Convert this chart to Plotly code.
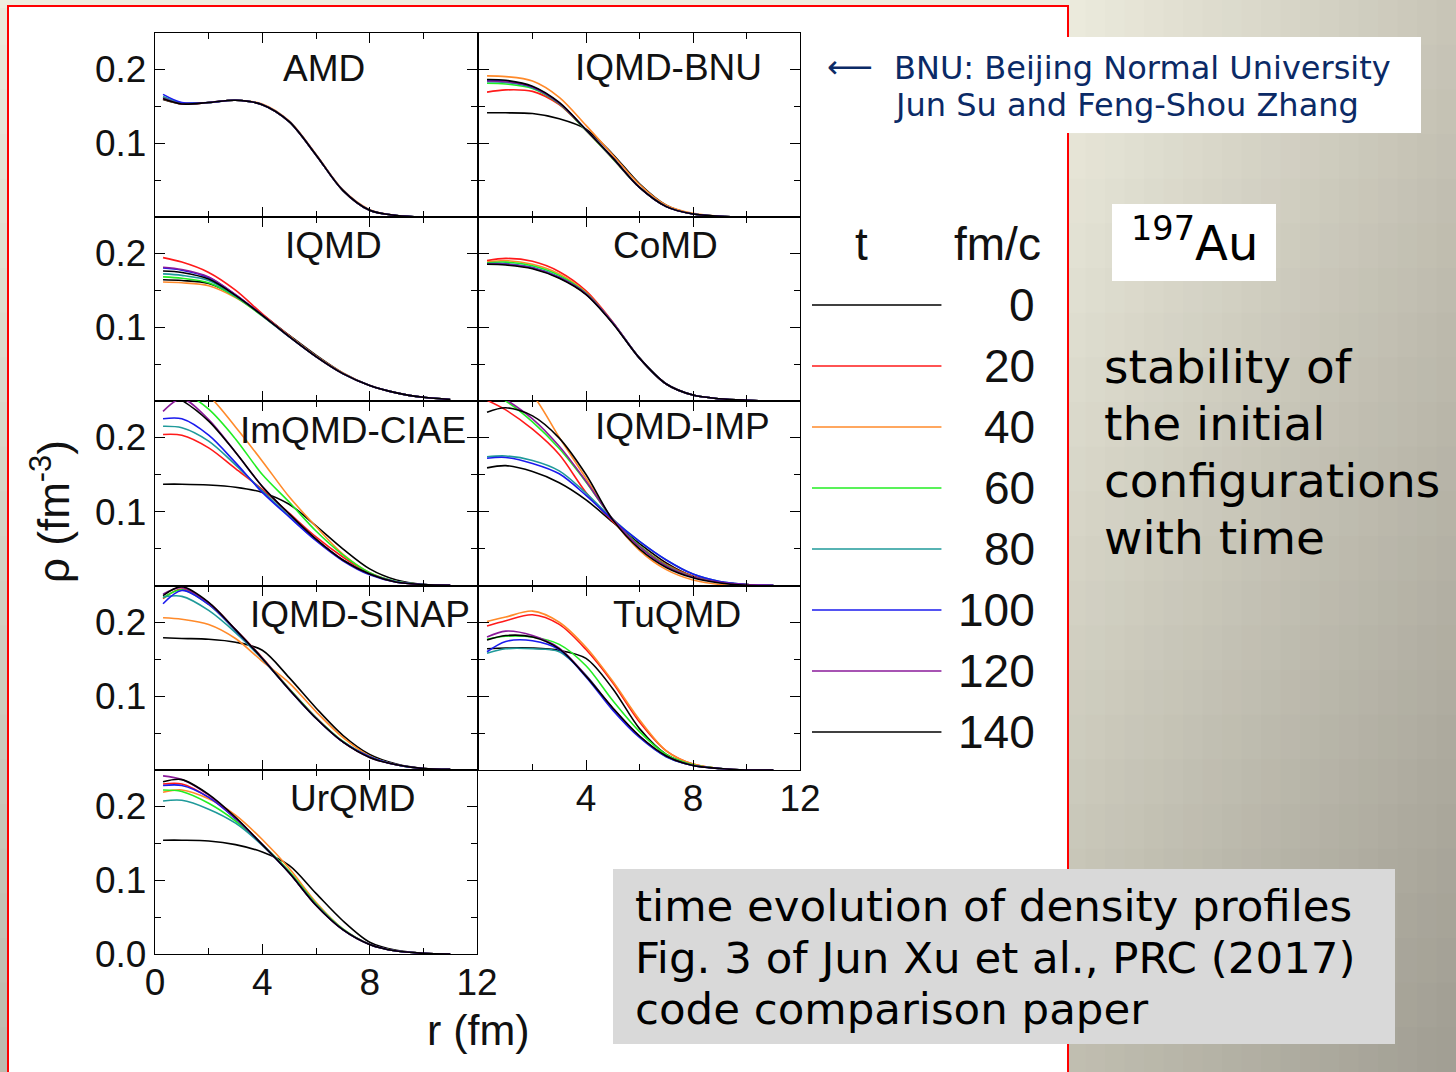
import plotly.graph_objects as go

W, H = 1456, 1072

# ---------------- data ----------------
r_fm = [0.3, 1, 2, 3, 4, 5, 6, 7, 8, 9, 10, 11]
times = [0, 20, 40, 60, 80, 100, 120, 140]
time_colors = ["#000000", "#ff1a1a", "#ff8a2a", "#22ee22", "#1f9a9a", "#1a1aee", "#8a1a9a", "#000000"]
models = ["AMD", "IQMD-BNU", "IQMD", "CoMD", "ImQMD-CIAE", "IQMD-IMP", "IQMD-SINAP", "TuQMD", "UrQMD"]
x_tick_vals = [0, 4, 8, 12]
y_tick_vals = [0.0, 0.1, 0.2]

# rho(r) in fm^-3, one row per time (0..140 fm/c)
rho_AMD = [
    [0.159, 0.153, 0.155, 0.158, 0.152, 0.129, 0.084, 0.036, 0.009, 0.002, 0.000, 0.000],
    [0.160, 0.154, 0.155, 0.158, 0.152, 0.129, 0.084, 0.036, 0.009, 0.002, 0.000, 0.000],
    [0.160, 0.153, 0.155, 0.158, 0.153, 0.130, 0.085, 0.037, 0.010, 0.002, 0.000, 0.000],
    [0.162, 0.154, 0.155, 0.158, 0.152, 0.129, 0.084, 0.036, 0.009, 0.002, 0.000, 0.000],
    [0.163, 0.154, 0.155, 0.158, 0.152, 0.129, 0.084, 0.036, 0.009, 0.002, 0.000, 0.000],
    [0.166, 0.155, 0.155, 0.158, 0.152, 0.129, 0.084, 0.036, 0.009, 0.002, 0.000, 0.000],
    [0.161, 0.153, 0.155, 0.158, 0.152, 0.129, 0.084, 0.036, 0.009, 0.002, 0.000, 0.000],
    [0.160, 0.153, 0.155, 0.158, 0.152, 0.129, 0.084, 0.036, 0.009, 0.002, 0.000, 0.000],
]
rho_IQMD_BNU = [
    [0.141, 0.141, 0.140, 0.133, 0.119, 0.085, 0.045, 0.016, 0.004, 0.001, 0.000, 0.000],
    [0.169, 0.172, 0.170, 0.152, 0.117, 0.079, 0.040, 0.014, 0.004, 0.001, 0.000, 0.000],
    [0.191, 0.190, 0.184, 0.162, 0.124, 0.084, 0.044, 0.016, 0.005, 0.001, 0.000, 0.000],
    [0.181, 0.180, 0.174, 0.153, 0.117, 0.079, 0.040, 0.014, 0.004, 0.001, 0.000, 0.000],
    [0.183, 0.182, 0.175, 0.154, 0.118, 0.080, 0.040, 0.014, 0.004, 0.001, 0.000, 0.000],
    [0.185, 0.184, 0.176, 0.154, 0.118, 0.080, 0.040, 0.014, 0.004, 0.001, 0.000, 0.000],
    [0.184, 0.183, 0.176, 0.154, 0.118, 0.080, 0.040, 0.014, 0.004, 0.001, 0.000, 0.000],
    [0.186, 0.185, 0.177, 0.155, 0.118, 0.080, 0.040, 0.014, 0.004, 0.001, 0.000, 0.000],
]
rho_IQMD = [
    [0.164, 0.163, 0.159, 0.142, 0.117, 0.089, 0.062, 0.038, 0.021, 0.011, 0.005, 0.002],
    [0.194, 0.188, 0.174, 0.150, 0.118, 0.088, 0.060, 0.037, 0.021, 0.011, 0.005, 0.002],
    [0.161, 0.160, 0.156, 0.140, 0.116, 0.088, 0.061, 0.038, 0.021, 0.011, 0.005, 0.002],
    [0.168, 0.166, 0.160, 0.141, 0.115, 0.087, 0.060, 0.037, 0.021, 0.011, 0.005, 0.002],
    [0.172, 0.170, 0.163, 0.142, 0.116, 0.087, 0.060, 0.037, 0.021, 0.011, 0.005, 0.002],
    [0.180, 0.177, 0.167, 0.144, 0.116, 0.087, 0.060, 0.037, 0.021, 0.011, 0.005, 0.002],
    [0.181, 0.178, 0.168, 0.144, 0.116, 0.087, 0.060, 0.037, 0.021, 0.011, 0.005, 0.002],
    [0.176, 0.174, 0.165, 0.143, 0.116, 0.087, 0.060, 0.037, 0.021, 0.011, 0.005, 0.002],
]
rho_CoMD = [
    [0.186, 0.185, 0.180, 0.167, 0.145, 0.106, 0.058, 0.023, 0.008, 0.003, 0.001, 0.000],
    [0.190, 0.193, 0.189, 0.175, 0.149, 0.107, 0.058, 0.023, 0.008, 0.003, 0.001, 0.000],
    [0.188, 0.190, 0.185, 0.172, 0.147, 0.106, 0.058, 0.023, 0.008, 0.003, 0.001, 0.000],
    [0.187, 0.188, 0.183, 0.170, 0.146, 0.106, 0.058, 0.023, 0.008, 0.003, 0.001, 0.000],
    [0.186, 0.186, 0.181, 0.168, 0.145, 0.106, 0.058, 0.023, 0.008, 0.003, 0.001, 0.000],
    [0.185, 0.185, 0.180, 0.167, 0.145, 0.106, 0.058, 0.023, 0.008, 0.003, 0.001, 0.000],
    [0.185, 0.185, 0.180, 0.167, 0.145, 0.106, 0.058, 0.023, 0.008, 0.003, 0.001, 0.000],
    [0.185, 0.184, 0.179, 0.166, 0.144, 0.105, 0.058, 0.023, 0.008, 0.003, 0.001, 0.000],
]
rho_ImQMD_CIAE = [
    [0.137, 0.137, 0.136, 0.133, 0.126, 0.110, 0.081, 0.050, 0.023, 0.008, 0.002, 0.001],
    [0.204, 0.203, 0.186, 0.158, 0.130, 0.098, 0.066, 0.039, 0.017, 0.006, 0.002, 0.001],
    [0.285, 0.278, 0.256, 0.214, 0.168, 0.120, 0.080, 0.043, 0.018, 0.006, 0.001, 0.000],
    [0.270, 0.262, 0.238, 0.198, 0.150, 0.113, 0.074, 0.042, 0.018, 0.006, 0.002, 0.000],
    [0.215, 0.213, 0.195, 0.163, 0.128, 0.094, 0.062, 0.035, 0.016, 0.006, 0.002, 0.001],
    [0.225, 0.225, 0.203, 0.166, 0.126, 0.093, 0.061, 0.034, 0.015, 0.005, 0.002, 0.001],
    [0.235, 0.252, 0.224, 0.180, 0.134, 0.097, 0.063, 0.035, 0.016, 0.005, 0.002, 0.001],
    [0.262, 0.250, 0.222, 0.180, 0.134, 0.097, 0.063, 0.035, 0.016, 0.005, 0.002, 0.001],
]
rho_IQMD_IMP = [
    [0.159, 0.162, 0.154, 0.139, 0.116, 0.086, 0.057, 0.031, 0.013, 0.005, 0.002, 0.001],
    [0.250, 0.237, 0.211, 0.177, 0.126, 0.087, 0.054, 0.029, 0.013, 0.005, 0.002, 0.001],
    [0.295, 0.285, 0.257, 0.200, 0.145, 0.089, 0.048, 0.022, 0.008, 0.002, 0.001, 0.000],
    [0.262, 0.249, 0.221, 0.185, 0.140, 0.090, 0.054, 0.028, 0.012, 0.005, 0.002, 0.001],
    [0.174, 0.175, 0.169, 0.155, 0.125, 0.090, 0.060, 0.035, 0.016, 0.006, 0.002, 0.001],
    [0.172, 0.173, 0.165, 0.151, 0.122, 0.089, 0.060, 0.035, 0.016, 0.006, 0.002, 0.001],
    [0.265, 0.251, 0.225, 0.188, 0.141, 0.090, 0.053, 0.027, 0.012, 0.005, 0.002, 0.001],
    [0.234, 0.240, 0.229, 0.199, 0.150, 0.089, 0.050, 0.025, 0.011, 0.004, 0.001, 0.000],
]
rho_IQMD_SINAP = [
    [0.179, 0.178, 0.177, 0.173, 0.162, 0.125, 0.084, 0.047, 0.021, 0.008, 0.002, 0.001],
    [0.232, 0.245, 0.226, 0.190, 0.152, 0.110, 0.071, 0.038, 0.018, 0.007, 0.002, 0.001],
    [0.206, 0.204, 0.197, 0.178, 0.147, 0.118, 0.079, 0.044, 0.019, 0.007, 0.002, 0.001],
    [0.233, 0.244, 0.224, 0.189, 0.151, 0.110, 0.071, 0.039, 0.018, 0.007, 0.002, 0.001],
    [0.234, 0.235, 0.216, 0.186, 0.150, 0.109, 0.070, 0.038, 0.018, 0.007, 0.002, 0.001],
    [0.225, 0.243, 0.224, 0.189, 0.151, 0.109, 0.070, 0.038, 0.018, 0.007, 0.002, 0.001],
    [0.238, 0.247, 0.226, 0.190, 0.151, 0.109, 0.070, 0.038, 0.017, 0.007, 0.002, 0.001],
    [0.236, 0.248, 0.227, 0.190, 0.151, 0.109, 0.070, 0.038, 0.017, 0.007, 0.002, 0.001],
]
rho_TuQMD = [
    [0.164, 0.165, 0.165, 0.162, 0.151, 0.110, 0.056, 0.021, 0.007, 0.002, 0.000, 0.000],
    [0.195, 0.202, 0.210, 0.197, 0.163, 0.118, 0.065, 0.026, 0.008, 0.002, 0.000, 0.000],
    [0.201, 0.207, 0.215, 0.200, 0.166, 0.120, 0.068, 0.026, 0.008, 0.002, 0.000, 0.000],
    [0.177, 0.181, 0.180, 0.170, 0.141, 0.094, 0.052, 0.021, 0.007, 0.002, 0.000, 0.000],
    [0.158, 0.164, 0.164, 0.160, 0.128, 0.083, 0.045, 0.018, 0.006, 0.002, 0.000, 0.000],
    [0.160, 0.174, 0.175, 0.163, 0.126, 0.081, 0.044, 0.018, 0.006, 0.002, 0.000, 0.000],
    [0.180, 0.188, 0.182, 0.165, 0.128, 0.084, 0.046, 0.019, 0.006, 0.002, 0.000, 0.000],
    [0.176, 0.182, 0.180, 0.164, 0.127, 0.084, 0.046, 0.019, 0.006, 0.002, 0.000, 0.000],
]
rho_UrQMD = [
    [0.154, 0.154, 0.153, 0.148, 0.138, 0.120, 0.082, 0.045, 0.016, 0.005, 0.001, 0.000],
    [0.230, 0.230, 0.212, 0.184, 0.148, 0.110, 0.066, 0.033, 0.013, 0.004, 0.001, 0.000],
    [0.219, 0.222, 0.210, 0.188, 0.155, 0.116, 0.070, 0.034, 0.013, 0.004, 0.001, 0.000],
    [0.222, 0.220, 0.204, 0.180, 0.148, 0.112, 0.068, 0.034, 0.013, 0.004, 0.001, 0.000],
    [0.207, 0.208, 0.196, 0.177, 0.147, 0.110, 0.067, 0.033, 0.013, 0.004, 0.001, 0.000],
    [0.228, 0.228, 0.212, 0.183, 0.148, 0.110, 0.066, 0.033, 0.013, 0.004, 0.001, 0.000],
    [0.241, 0.236, 0.215, 0.184, 0.148, 0.110, 0.066, 0.033, 0.013, 0.004, 0.001, 0.000],
    [0.233, 0.236, 0.216, 0.185, 0.148, 0.110, 0.066, 0.033, 0.013, 0.004, 0.001, 0.000],
]

rho_table = {
    "AMD": rho_AMD, "IQMD-BNU": rho_IQMD_BNU, "IQMD": rho_IQMD, "CoMD": rho_CoMD,
    "ImQMD-CIAE": rho_ImQMD_CIAE, "IQMD-IMP": rho_IQMD_IMP, "IQMD-SINAP": rho_IQMD_SINAP,
    "TuQMD": rho_TuQMD, "UrQMD": rho_UrQMD,
}

# ---------------- layout helpers ----------------
def fx(p):
    return p / W


def fy(p):
    return 1 - p / H


ARIAL = "Liberation Sans, Arial, sans-serif"
VERD = "DejaVu Sans, Verdana, sans-serif"

col_px = [(155, 477), (479, 800)]
row_px = [(33, 217), (217, 401), (401, 586), (586, 770), (770, 954)]
title_px = [(324, 68), (668, 67), (333, 245), (665, 245), (353, 430),
            (682, 427), (360, 614), (677, 614), (352, 798)]

fig = go.Figure()
layout = dict(
    width=W, height=H, margin=dict(l=0, r=0, t=0, b=0, pad=0, autoexpand=False),
    paper_bgcolor="#d5d3c3", plot_bgcolor="rgba(0,0,0,0)",
    showlegend=False,
)
annotations = []
shapes = []

# ---------------- background (slide) ----------------
tl, tr, bl, br = (237, 236, 222), (200, 197, 183), (192, 190, 176), (160, 157, 146)
ncol, nrow = 20, 24
gx0, gx1 = 1066, W
for ci in range(ncol):
    for ri in range(nrow):
        u = (ci + 0.5) / ncol
        v = (ri + 0.5) / nrow
        c = [(1 - u) * (1 - v) * tl[j] + u * (1 - v) * tr[j] + (1 - u) * v * bl[j] + u * v * br[j] for j in range(3)]
        xa = gx0 + (gx1 - gx0) * ci / ncol
        xb = gx0 + (gx1 - gx0) * (ci + 1) / ncol + 1
        ya = H * ri / nrow
        yb = H * (ri + 1) / nrow + 1
        shapes.append(dict(type="rect", xref="paper", yref="paper", x0=fx(xa), x1=fx(xb),
                           y0=fy(yb), y1=fy(ya), line=dict(width=0),
                           fillcolor="rgb(%d,%d,%d)" % tuple(round(k) for k in c), layer="below"))
for ri in range(nrow):
    v = (ri + 0.5) / nrow
    c = [235 - 47 * v, 234 - 48 * v, 220 - 47 * v]
    shapes.append(dict(type="rect", xref="paper", yref="paper", x0=0, x1=fx(10),
                       y0=fy(H * (ri + 1) / nrow + 1), y1=fy(H * ri / nrow), line=dict(width=0),
                       fillcolor="rgb(%d,%d,%d)" % tuple(round(k) for k in c), layer="below"))
shapes.append(dict(type="rect", xref="paper", yref="paper", x0=0, x1=fx(1070), y0=fy(8), y1=1,
                   line=dict(width=0), fillcolor="#eeeddf", layer="below"))
# white slide panel with red frame
shapes.append(dict(type="rect", xref="paper", yref="paper", x0=fx(8), x1=fx(1068), y0=fy(1090), y1=fy(6),
                   line=dict(width=2, color="#ff0000"), fillcolor="white", layer="below"))
# text boxes
shapes.append(dict(type="rect", xref="paper", yref="paper", x0=fx(812), x1=fx(1421), y0=fy(133), y1=fy(37),
                   line=dict(width=0), fillcolor="white", layer="below"))
shapes.append(dict(type="rect", xref="paper", yref="paper", x0=fx(1112), x1=fx(1276), y0=fy(281), y1=fy(204),
                   line=dict(width=0), fillcolor="white", layer="below"))
shapes.append(dict(type="rect", xref="paper", yref="paper", x0=fx(613), x1=fx(1395), y0=fy(1044), y1=fy(869),
                   line=dict(width=0), fillcolor="#d9d9d9", layer="below"))

# ---------------- panels ----------------
for k, name in enumerate(models):
    row, col = k // 2, k % 2
    n = k + 1
    xs = "" if n == 1 else str(n)
    x0, x1 = col_px[col]
    yt, yb = row_px[row]
    rho = rho_table[name]
    for i, t in enumerate(times):
        fig.add_trace(go.Scatter(
            x=r_fm, y=rho[i], mode="lines", name=f"{name} t={t}",
            line=dict(color=time_colors[i], width=1.6, shape="spline", smoothing=0.9),
            xaxis="x" + xs, yaxis="y" + xs, hoverinfo="skip", showlegend=False))
    show_x = (k == 8) or (k == 7)
    xvals = x_tick_vals if k == 8 else (x_tick_vals[1:] if k == 7 else x_tick_vals)
    layout["xaxis" + xs] = dict(
        domain=[fx(x0), fx(x1)], range=[0, 12], anchor="y" + xs,
        showline=True, linecolor="black", linewidth=1.3, mirror="ticks",
        ticks="inside", ticklen=10, tickwidth=1.3, tickcolor="black",
        tickvals=xvals, tickformat="d", showticklabels=show_x,
        minor=dict(tickvals=[2, 6, 10], ticks="inside", ticklen=6, tickwidth=1.3, tickcolor="black"),
        showgrid=False, zeroline=False, fixedrange=True,
        tickfont=dict(family=ARIAL, size=37, color="#111"), ticklabelstandoff=-5,
    )
    yvals = y_tick_vals if row == 4 else y_tick_vals[1:]
    layout["yaxis" + xs] = dict(
        domain=[fy(yb), fy(yt)], range=[0, 0.249], anchor="x" + xs,
        showline=True, linecolor="black", linewidth=1.3, mirror="ticks",
        ticks="inside", ticklen=10, tickwidth=1.3, tickcolor="black",
        tickvals=yvals, tickformat=".1f", showticklabels=(col == 0),
        minor=dict(tickvals=[0.05, 0.15], ticks="inside", ticklen=6, tickwidth=1.3, tickcolor="black"),
        showgrid=False, zeroline=False, fixedrange=True,
        tickfont=dict(family=ARIAL, size=37, color="#111"), ticklabelstandoff=0,
    )
    tx, ty = title_px[k]
    annotations.append(dict(text=name, x=fx(tx), y=fy(ty), xref="paper", yref="paper", showarrow=False,
                            xanchor="center", yanchor="middle",
                            font=dict(family=ARIAL, size=37, color="#111")))

# axis titles
annotations.append(dict(text="r (fm)", x=fx(478), y=fy(1030), xref="paper", yref="paper", showarrow=False,
                        xanchor="center", yanchor="middle", font=dict(family=ARIAL, size=43, color="#111")))
annotations.append(dict(text="ρ (fm<sup>-3</sup>)", x=fx(50), y=fy(512), xref="paper", yref="paper",
                        showarrow=False, textangle=-90, xanchor="center", yanchor="middle",
                        font=dict(family=ARIAL, size=44, color="#111")))

# ---------------- time legend (own axes) ----------------
leg_x0, leg_x1 = 812, 1045
layout["xaxis10"] = dict(domain=[fx(leg_x0), fx(leg_x1)], range=[0, 1.8], anchor="y10", visible=False,
                         fixedrange=True)
layout["yaxis10"] = dict(domain=[fy(762.5), fy(213.5)], range=[7.5, -1.5], anchor="x10", visible=False,
                         fixedrange=True)
for i, t in enumerate(times):
    fig.add_trace(go.Scatter(x=[0, 1], y=[i, i], mode="lines", line=dict(color=time_colors[i], width=1.6),
                             xaxis="x10", yaxis="y10", hoverinfo="skip", showlegend=False))
    annotations.append(dict(text=str(t), x=1.74, y=i, xref="x10", yref="y10", showarrow=False,
                            xanchor="right", yanchor="middle", font=dict(family=ARIAL, size=46, color="#111")))
annotations.append(dict(text="t", x=0.386, y=-1, xref="x10", yref="y10", showarrow=False,
                        xanchor="center", yanchor="middle", font=dict(family=ARIAL, size=46, color="#111")))
annotations.append(dict(text="fm/c", x=1.785, y=-1, xref="x10", yref="y10", showarrow=False,
                        xanchor="right", yanchor="middle", font=dict(family=ARIAL, size=46, color="#111")))

# ---------------- slide texts ----------------
NAVY = "#0b2a66"
annotations.append(dict(text="⟵", x=fx(850), y=fy(67), xref="paper", yref="paper", showarrow=False,
                        xanchor="center", yanchor="middle", font=dict(family=VERD, size=32, color=NAVY)))
annotations.append(dict(text="BNU: Beijing Normal University", x=fx(892), y=fy(68), xref="paper", yref="paper",
                        showarrow=False, xanchor="left", yanchor="middle", font=dict(family=VERD, size=32, color=NAVY)))
annotations.append(dict(text="Jun Su and Feng-Shou Zhang", x=fx(892), y=fy(105), xref="paper", yref="paper",
                        showarrow=False, xanchor="left", yanchor="middle", font=dict(family=VERD, size=32, color=NAVY)))
annotations.append(dict(text="<sup>197</sup>Au", x=fx(1194), y=fy(240), xref="paper", yref="paper",
                        showarrow=False, xanchor="center", yanchor="middle", font=dict(family=VERD, size=48, color="black")))
for j, line in enumerate(["stability of", "the initial", "configurations", "with time"]):
    annotations.append(dict(text=line, x=fx(1102), y=fy(366 + 57.3 * j), xref="paper", yref="paper",
                            showarrow=False, xanchor="left", yanchor="middle",
                            font=dict(family=VERD, size=47, color="black")))
for j, line in enumerate(["time evolution of density profiles", "Fig. 3 of Jun Xu et al., PRC (2017)",
                          "code comparison paper"]):
    annotations.append(dict(text=line, x=fx(633), y=fy(906 + 51.5 * j), xref="paper", yref="paper",
                            showarrow=False, xanchor="left", yanchor="middle",
                            font=dict(family=VERD, size=43.5, color="black")))

layout["annotations"] = annotations
layout["shapes"] = shapes
fig.update_layout(**layout)
fig.write_html("out.html",
               post_script="document.body.style.margin='0px';document.body.style.overflow='hidden';")
